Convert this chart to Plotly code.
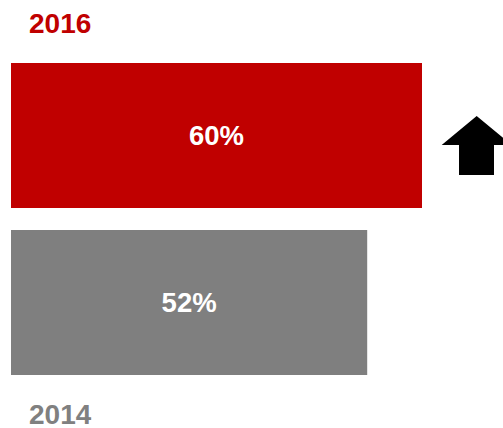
import plotly.graph_objects as go

# Share of respondents, by survey year
years = ["2014", "2016"]
values = [52, 60]
bar_colors = ["#7F7F7F", "#C00000"]
label_colors = ["#808080", "#C00000"]

W, H = 503, 428
ML = 11
PLOT_W = W - ML

fig = go.Figure()
fig.add_trace(go.Bar(
    y=[0, 1],
    x=values,
    orientation="h",
    width=0.868,
    marker=dict(color=bar_colors, line=dict(width=0)),
    text=[f"{v}%" for v in values],
    textposition="inside",
    insidetextanchor="middle",
    textfont=dict(family="Liberation Sans, Arial, sans-serif", size=27.5, color="white", weight="bold"),
    hoverinfo="skip",
))


def px(x):
    return (x - ML) / PLOT_W


def py(y):
    return 1 - y / H


# Year captions above and below the bars
fig.add_annotation(x=px(27), y=py(22.5), xref="paper", yref="paper", text="<b>2016</b>",
                   showarrow=False, xanchor="left", yanchor="middle", height=24, valign="middle",
                   font=dict(family="Liberation Sans, Arial, sans-serif", size=28, color=label_colors[1]))
fig.add_annotation(x=px(27), y=py(414), xref="paper", yref="paper", text="<b>2014</b>",
                   showarrow=False, xanchor="left", yanchor="middle", height=24, valign="middle",
                   font=dict(family="Liberation Sans, Arial, sans-serif", size=28, color=label_colors[0]))

# Upward block arrow marking the increase
pts = [(476.7, 116), (441.7, 145), (459, 145), (459, 175), (494, 175), (494, 145), (511.7, 145)]
path = "M " + " L ".join(f"{px(x):.4f},{py(y):.4f}" for x, y in pts) + " Z"
fig.add_shape(type="path", xref="paper", yref="paper", path=path,
              fillcolor="black", line=dict(width=0))

fig.update_layout(
    width=W, height=H,
    margin=dict(l=ML, r=0, t=0, b=0),
    paper_bgcolor="white", plot_bgcolor="white",
    showlegend=False,
    xaxis=dict(range=[0, PLOT_W / 6.85], visible=False, fixedrange=True),
    yaxis=dict(range=[-0.7515, 1.8114], visible=False, fixedrange=True),
)

fig.write_html("out.html", config={"displayModeBar": False})
